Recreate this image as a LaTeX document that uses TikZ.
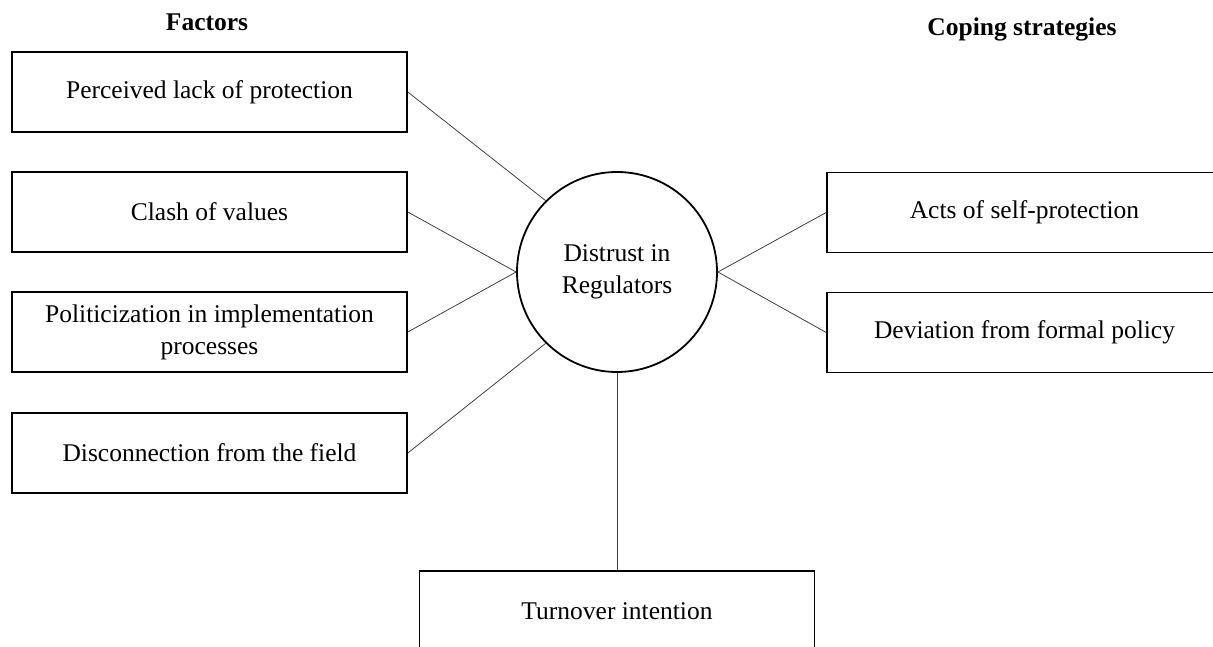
\documentclass[tikz,border=0pt]{standalone}
\usepackage{fontspec}
\setmainfont{Liberation Serif}

\begin{document}
\begin{tikzpicture}[x=1pt,y=-1pt,
        every text node part/.style={align=center},
        every node/.style={font=\fontsize{25.5}{32}\selectfont},
        factor/.style={draw,line width=1.6pt,minimum width=395pt,minimum height=80pt,inner sep=0pt},
        hub/.style={draw,circle,line width=1.8pt,minimum size=200pt,inner sep=0pt},
        link/.style={draw=black!75,line width=0.8pt}]
        \useasboundingbox (0,0) rectangle (1213,647);

        \node[anchor=base] (H0) at (207,31) {\bfseries Factors};
        \node[anchor=base] (H1) at (1022,36) {\bfseries Coping strategies};

        \node[hub] (D) at (617,272) {Distrust in\\Regulators};

        \node[factor] (F0) at (209.5,92) {Perceived lack of protection};
        \node[factor] (F1) at (209.5,212) {Clash of values};
        \node[factor] (F2) at (209.5,332) {Politicization in implementation\\processes};
        \node[factor] (F3) at (209.5,453) {Disconnection from the field};

        \node[factor] (C0) at (1024.5,212.5) {Acts of self-protection};
        \node[factor] (C1) at (1024.5,332.5) {Deviation from formal policy};

        \node[factor] (T) at (617,611) {Turnover intention};

        \draw[link] (F0.east) -- (D.135);
        \draw[link] (F1.east) -- (D.west);
        \draw[link] (F2.east) -- (D.west);
        \draw[link] (F3.east) -- (D.225);
        \draw[link] (C0.west) -- (D.east) -- (C1.west);
        \draw[link] (D.south) -- (T.north);
    \end{tikzpicture}
\end{document}
